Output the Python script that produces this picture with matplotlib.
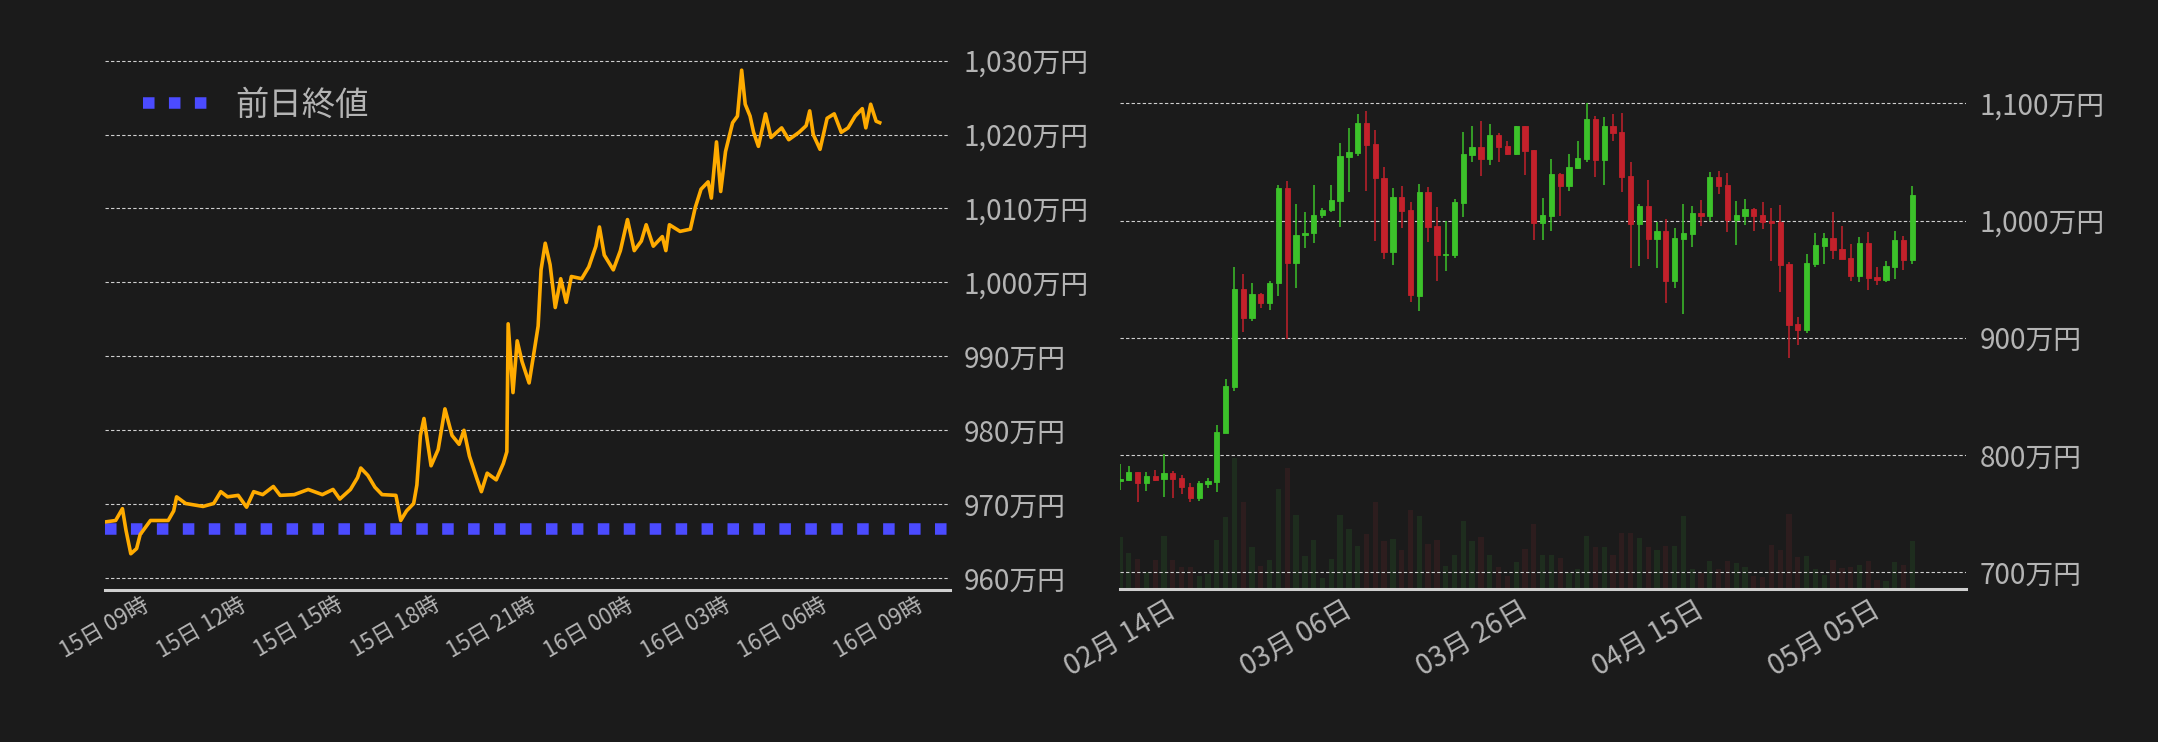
import matplotlib
matplotlib.use("Agg")
import matplotlib.pyplot as plt
import numpy as np
import pandas as pd
from matplotlib.lines import Line2D

plt.rcParams['font.family'] = ['Noto Sans CJK JP', 'DejaVu Sans']

# ---------- left panel data (hours since 15日 09:00, price in 万円) ----------
intraday_hours = [0.00, 0.33, 0.54, 0.65, 0.80, 0.98, 1.09, 1.41, 1.96, 2.13, 2.22, 2.50, 3.04, 3.37, 3.59,
                  3.80, 4.13, 4.39, 4.61, 4.89, 5.22, 5.43, 5.87, 6.30, 6.74, 7.07, 7.28, 7.61, 7.83, 7.93,
                  8.15, 8.37, 8.59, 9.02, 9.17, 9.35, 9.57, 9.67, 9.78, 9.89, 10.11, 10.33, 10.54, 10.76,
                  10.98, 11.13, 11.30, 11.52, 11.67, 11.85, 12.13, 12.35, 12.46, 12.50, 12.65, 12.78, 12.93,
                  13.15, 13.30, 13.43, 13.52, 13.65, 13.80, 13.96, 14.13, 14.30, 14.46, 14.78, 15.00, 15.22,
                  15.33, 15.48, 15.76, 15.98, 16.20, 16.41, 16.63, 16.78, 17.00, 17.28, 17.39, 17.50, 17.83,
                  18.15, 18.30, 18.48, 18.70, 18.80, 18.96, 19.09, 19.24, 19.46, 19.61, 19.74, 19.85, 20.00,
                  20.11, 20.26, 20.48, 20.65, 20.98, 21.20, 21.52, 21.74, 21.85, 21.96, 22.17, 22.39, 22.61,
                  22.83, 23.04, 23.26, 23.48, 23.59, 23.74, 23.91, 24.02]
intraday_price = [967.6, 967.8, 969.4, 966.5, 963.3, 964.0, 965.9, 967.8, 967.8, 969.1, 971.0, 970.1, 969.7,
                  970.1, 971.7, 971.0, 971.2, 969.6, 971.7, 971.3, 972.4, 971.2, 971.3, 972.0, 971.3, 972.0,
                  970.7, 972.0, 973.6, 974.9, 973.9, 972.3, 971.3, 971.2, 967.8, 969.1, 970.1, 972.6, 979.3,
                  981.6, 975.2, 977.4, 982.9, 979.3, 978.1, 980.0, 976.5, 973.6, 971.7, 974.2, 973.3, 975.5,
                  977.1, 994.4, 985.1, 992.1, 989.3, 986.4, 990.5, 994.1, 1001.7, 1005.3, 1002.4, 996.6,
                  1000.5, 997.3, 1000.8, 1000.5, 1002.1, 1004.9, 1007.5, 1003.7, 1001.7, 1004.3, 1008.5,
                  1004.3, 1005.6, 1007.8, 1004.9, 1006.2, 1004.3, 1007.8, 1006.9, 1007.2, 1010.1, 1012.6,
                  1013.6, 1011.4, 1019.0, 1012.3, 1017.7, 1021.6, 1022.5, 1028.7, 1024.1, 1022.5, 1020.3,
                  1018.4, 1022.8, 1019.6, 1020.9, 1019.3, 1020.3, 1021.2, 1023.2, 1020.0, 1018.0, 1022.2,
                  1022.8, 1020.3, 1020.9, 1022.5, 1023.5, 1020.9, 1024.1, 1021.8, 1021.6]
prev_close = 966.7
left_yticks = [960, 970, 980, 990, 1000, 1010, 1020, 1030]
left_xtick_labels = ['15日 09時', '15日 12時', '15日 15時', '15日 18時', '15日 21時',
                     '16日 00時', '16日 03時', '16日 06時', '16日 09時']
legend_label = '前日終値'

# ---------- right panel data (daily OHLC in 万円, volume arbitrary) ----------
start_date = '2023-02-14'
opens = [778, 778.5, 785.3, 776.2, 781.9, 779.1, 784.2, 780.2, 772.5, 763.4, 775.4, 777.1, 818.9, 858.1, 942.0,
         917.0, 936.9, 929.8, 946.8, 1028.1, 963.9, 987.8, 989.5, 1004.8, 1009.4, 1016.8, 1054.3, 1057.7, 1083.0,
         1065.1, 1036.7, 973.3, 1019.9, 1008.8, 935.7, 1024.2, 995.2, 970.7, 970.7, 1014.8, 1055.7, 1062.6, 1052.3,
         1072.8, 1063.4, 1056.6, 1080.5, 1060.0, 998.0, 1003.7, 1039.5, 1029.3, 1044.6, 1052.6, 1086.4, 1051.5,
         1080.5, 1075.3, 1037.8, 997.2, 1012.2, 984.4, 990.9, 948.5, 984.4, 988.6, 1006.3, 1004.0, 1037.0, 1030.1,
         1000.3, 1003.7, 1009.7, 1004.5, 999.4, 998.6, 962.8, 911.6, 906.5, 962.8, 978.4, 984.9, 975.5, 967.9,
         952.5, 980.7, 951.7, 949.1, 960.2, 983.2, 966.2]
highs = [792.2, 790.4, 785.3, 785.3, 787.0, 800.7, 786.2, 782.8, 775.7, 777.6, 780.0, 825.5, 864.7, 960.2, 954.2,
         946.5, 938.3, 948.3, 1030.1, 1033.6, 1013.9, 1007.1, 1030.1, 1011.1, 1030.1, 1066.2, 1078.8, 1090.7,
         1093.3, 1077.1, 1045.5, 1027.6, 1029.3, 1015.6, 1031.0, 1029.0, 1011.4, 1000.0, 1018.8, 1075.3, 1081.0,
         1084.7, 1082.2, 1074.5, 1067.7, 1080.5, 1080.5, 1060.0, 1019.1, 1052.3, 1040.4, 1056.6, 1067.7, 1100.1,
         1089.0, 1088.1, 1090.7, 1091.6, 1049.8, 1013.9, 1034.4, 998.6, 1001.1, 993.5, 1013.9, 1012.2, 1017.3,
         1041.2, 1042.1, 1040.4, 1016.5, 1018.2, 1010.5, 1015.6, 1010.5, 1013.1, 964.5, 917.5, 971.3, 989.2,
         989.2, 1007.1, 995.2, 979.8, 985.8, 990.0, 960.2, 965.3, 990.9, 986.6, 1029.3]
lows = [770.0, 777.9, 760.0, 769.4, 777.9, 764.3, 763.4, 766.6, 760.0, 760.9, 771.4, 768.6, 818.9, 854.7, 905.0,
        914.4, 925.5, 923.5, 935.7, 899.3, 942.6, 976.7, 980.9, 1002.3, 1007.4, 994.6, 1024.5, 1055.2, 1025.3,
        982.7, 967.0, 962.2, 993.7, 930.3, 922.9, 981.5, 948.3, 956.8, 967.9, 1002.8, 1050.0, 1037.8, 1047.5,
        1049.8, 1055.7, 1055.7, 1038.7, 983.2, 983.2, 990.9, 1003.7, 1025.0, 1043.8, 1049.8, 1037.0, 1030.1,
        1067.7, 1024.2, 959.3, 961.0, 967.0, 959.3, 929.8, 942.6, 920.4, 977.5, 995.5, 999.7, 1022.5, 990.0,
        979.0, 996.0, 990.9, 992.6, 965.3, 938.9, 882.6, 893.7, 903.9, 960.2, 962.8, 967.0, 967.0, 948.3, 947.4,
        940.6, 944.8, 947.4, 950.0, 957.6, 962.8]
closes = [779, 785.3, 776.2, 781.9, 778.5, 784.2, 779.6, 772.8, 763.4, 775.7, 777.4, 819.5, 858.7, 942.0, 917.0,
          936.9, 929.8, 947.1, 1028.1, 963.9, 988.1, 989.8, 1005.1, 1009.4, 1017.3, 1054.9, 1058.3, 1083.0,
          1064.3, 1036.4, 973.3, 1019.9, 1008.2, 936.6, 1024.2, 994.6, 970.7, 971.0, 1015.6, 1056.6, 1062.6,
          1052.3, 1072.8, 1062.6, 1056.9, 1080.5, 1059.1, 998.0, 1004.5, 1039.5, 1029.3, 1045.5, 1053.2, 1086.4,
          1051.5, 1080.5, 1074.5, 1037.0, 997.2, 1012.2, 984.4, 990.9, 948.5, 984.9, 989.2, 1006.3, 1004.0,
          1037.0, 1029.3, 1000.3, 1004.5, 1009.7, 1003.7, 999.1, 998.0, 961.9, 910.7, 906.5, 963.6, 979.0, 984.9,
          974.7, 967.0, 952.5, 980.7, 950.8, 949.1, 961.0, 983.2, 966.2, 1021.6]
volumes = [157, 109, 90, 52, 87, 159, 87, 67, 67, 40, 44, 147, 217, 394, 261, 127, 70, 87, 300, 364, 222, 100,
           147, 34, 90, 222, 180, 129, 165, 261, 144, 150, 117, 237, 219, 135, 147, 69, 102, 204, 144, 156, 102,
           66, 39, 81, 120, 195, 102, 102, 93, 47, 60, 159, 126, 126, 102, 168, 168, 153, 126, 117, 129, 129, 219,
           60, 47, 84, 60, 84, 78, 66, 39, 36, 132, 117, 225, 96, 99, 60, 42, 87, 63, 66, 72, 84, 27, 24, 81, 72,
           144]
right_yticks = [700, 800, 900, 1000, 1100]

BG = '#1b1b1b'
GRID = '#d0d0d0'
TXT = '#b4b4b4'
UP = '#3cc22a'
DN = '#c3212b'
UPV = '#1e2d1e'
DNV = '#2d1d1e'

def fmt_man(v):
    return f'{int(v):,}万円'

fig = plt.figure(figsize=(21.58, 7.42), dpi=100, facecolor=BG)

# ---------------- left ----------------
axL = fig.add_axes([105/2158, 1-590/742, 845/2158, (590-49.5)/742], facecolor=BG)
axL.plot(intraday_hours, intraday_price, color='#ffab00', lw=2.6, zorder=3)
axL.plot([0, 26.2], [prev_close, prev_close], color='#4b4bff', lw=8.3,
         linestyle=(0, (1, 1.25)), solid_capstyle='butt', dash_capstyle='butt', zorder=2)
axL.set_xlim(0, 26.2)
axL.set_ylim(958.4, 1031.5)
axL.set_yticks(left_yticks)
axL.set_yticklabels([fmt_man(v) for v in left_yticks])
axL.yaxis.tick_right()
axL.set_xticks(np.arange(0, 25, 3))
axL.set_xticklabels(left_xtick_labels, rotation=30, ha='center', fontsize=16, color=TXT)
axL.tick_params(axis='y', length=0, pad=10, labelsize=20, labelcolor=TXT)
axL.tick_params(axis='x', length=0, pad=2)
axL.grid(axis='y', color=GRID, linestyle=(0, (3, 2)), lw=0.8)
for s in ['top', 'right', 'left']:
    axL.spines[s].set_visible(False)
axL.spines['bottom'].set_color('#cfcfcf')
axL.spines['bottom'].set_linewidth(2.2)
handle = Line2D([0], [0], color='#4b4bff', lw=8.3, linestyle=(0, (1, 1.25)), dash_capstyle='butt')
leg = axL.legend([handle], [legend_label], loc='upper left', frameon=False, fontsize=24,
                 handlelength=1.95, handletextpad=0.8, bbox_to_anchor=(0.01, 0.985))
for t in leg.get_texts():
    t.set_color(TXT)

# ---------------- right ----------------
axR = fig.add_axes([1120/2158, 1-589/742, 846/2158, 509/742], facecolor=BG)
axV = axR.twinx()
n = len(opens)
idx = np.arange(n)
dates = pd.date_range(start_date, periods=n, freq='D')
colors = [UP if c >= o else DN for o, c in zip(opens, closes)]
vcolors = [UPV if c >= o else DNV for o, c in zip(opens, closes)]
axV.bar(idx, volumes, width=0.6, color=vcolors, zorder=1)
axV.set_ylim(0, 1531)
axV.axis('off')
axR.set_zorder(axV.get_zorder() + 1)
axR.patch.set_visible(False)
axR.vlines(idx, lows, highs, color=colors, lw=1.1, zorder=3)
bottoms = np.minimum(opens, closes)
heights = np.maximum(np.abs(np.array(closes) - np.array(opens)), 0.8)
axR.bar(idx, heights, bottom=bottoms, width=0.6, color=colors, edgecolor=colors, lw=0.6, zorder=4)
axR.set_xlim(0, 96.1)
axR.set_ylim(685.5, 1120)
axR.set_yticks(right_yticks)
axR.set_yticklabels([fmt_man(v) for v in right_yticks])
axR.yaxis.tick_right()
tick_idx = list(range(0, n, 20))
axR.set_xticks(tick_idx)
axR.set_xticklabels([f'{dates[i].month:02d}月 {dates[i].day:02d}日' for i in tick_idx],
                    rotation=30, ha='center', fontsize=20, color=TXT)
axR.tick_params(axis='y', length=0, pad=10, labelsize=20, labelcolor=TXT)
axR.tick_params(axis='x', length=0, pad=4)
axR.grid(axis='y', color=GRID, linestyle=(0, (3, 2)), lw=0.8)
axR.set_axisbelow(True)
for s in ['top', 'right', 'left']:
    axR.spines[s].set_visible(False)
    axV.spines[s].set_visible(False)
axR.spines['bottom'].set_color('#cfcfcf')
axR.spines['bottom'].set_linewidth(2.2)

fig.savefig('out.png', dpi=100, facecolor=BG)
